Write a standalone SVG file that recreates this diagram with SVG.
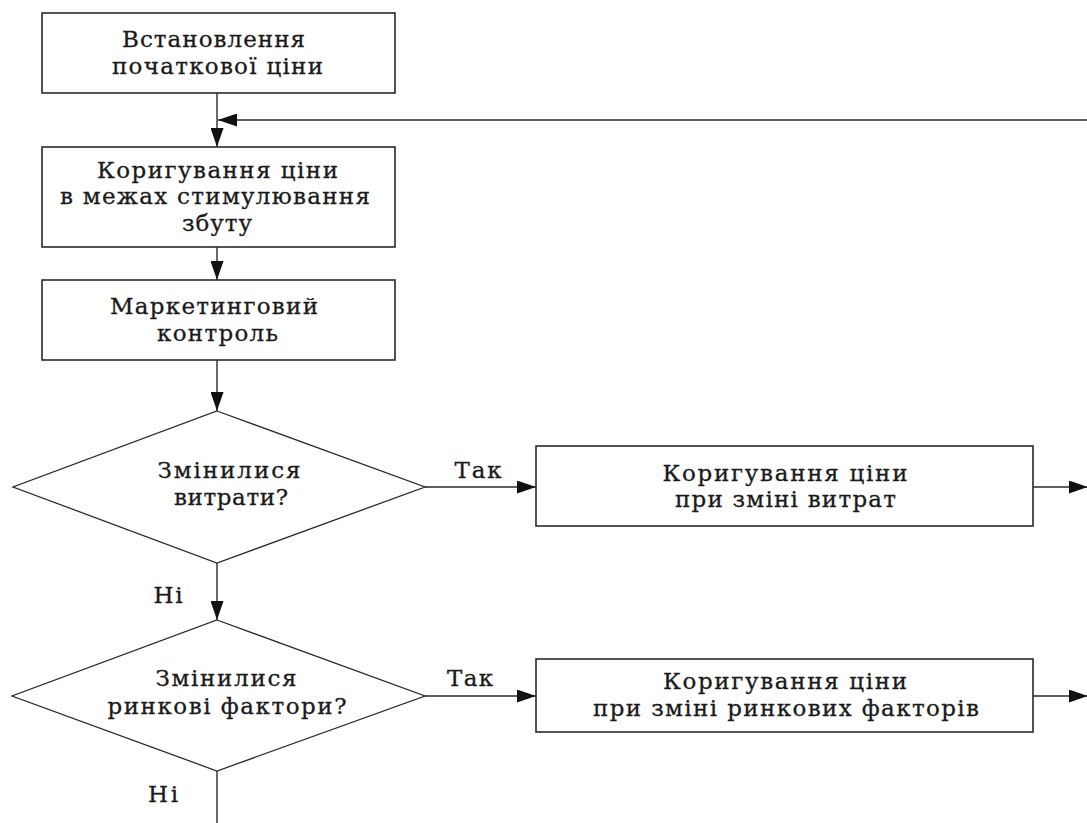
<svg xmlns="http://www.w3.org/2000/svg" width="1087" height="823" viewBox="0 0 1087 823">
<style>
.box{fill:#fff;stroke:#2a2a2a;stroke-width:1.6}
.dia{fill:#fff;stroke:#2a2a2a;stroke-width:1.3}
.t{font-family:"DejaVu Serif","Liberation Serif",serif;font-size:23px;fill:#1a1a1a;stroke:#1a1a1a;stroke-width:0.3;text-anchor:middle}
.c{fill:none;stroke:#2a2a2a;stroke-width:1.4}
.ca{fill:none;stroke:#2a2a2a;stroke-width:1.4;marker-end:url(#ah)}
</style>
<defs>
<marker id="ah" markerUnits="userSpaceOnUse" markerWidth="19" markerHeight="13" refX="19" refY="6.5" orient="auto">
<path d="M0,0 L19,6.5 L0,13 Z" fill="#111"/>
</marker>
</defs>
<rect width="1087" height="823" fill="#fff"/>
<g id="connectors">
<path class="ca" d="M217,93 V147"/>
<path class="ca" d="M1087,120 H218"/>
<path class="ca" d="M217,247 V280"/>
<path class="ca" d="M217,360 V411"/>
<path class="ca" d="M425,487 H536"/>
<path class="ca" d="M1033,487 H1088"/>
<path class="ca" d="M217,563 V620"/>
<path class="ca" d="M425,696 H536"/>
<path class="ca" d="M1033,696 H1088"/>
<path class="c" d="M217,771 V823"/>
</g>
<g id="n1">
<rect class="box" x="42" y="13" width="353" height="80"/>
<text class="t" x="213.5" y="47" textLength="183" lengthAdjust="spacing">Встановлення</text>
<text class="t" x="217.5" y="74" textLength="211" lengthAdjust="spacing">початкової ціни</text>
</g>
<g id="n2">
<rect class="box" x="42" y="147" width="353" height="100"/>
<text class="t" x="217.5" y="178" textLength="241" lengthAdjust="spacing">Коригування ціни</text>
<text class="t" x="215" y="204" textLength="310" lengthAdjust="spacing">в межах стимулювання</text>
<text class="t" x="217" y="231" textLength="70" lengthAdjust="spacing">збуту</text>
</g>
<g id="n3">
<rect class="box" x="42" y="280" width="353" height="80"/>
<text class="t" x="214" y="314" textLength="208" lengthAdjust="spacing">Маркетинговий</text>
<text class="t" x="217.5" y="341" textLength="121" lengthAdjust="spacing">контроль</text>
</g>
<g id="d1">
<polygon class="dia" points="217,411 425,487 217,563 13,487"/>
<text class="t" x="229" y="478" textLength="143" lengthAdjust="spacing">Змінилися</text>
<text class="t" x="231" y="505" textLength="114" lengthAdjust="spacing">витрати?</text>
</g>
<g id="l1">
<text class="t" x="478" y="478" textLength="47" lengthAdjust="spacing">Так</text>
<text class="t" x="168" y="603" textLength="29" lengthAdjust="spacing">Ні</text>
</g>
<g id="nA">
<rect class="box" x="536" y="446" width="497" height="80"/>
<text class="t" x="785" y="481" textLength="245" lengthAdjust="spacing">Коригування ціни</text>
<text class="t" x="785.5" y="507" textLength="221" lengthAdjust="spacing">при зміні витрат</text>
</g>
<g id="d2">
<polygon class="dia" points="217,620 425,696 217,771 12,696"/>
<text class="t" x="226" y="686" textLength="141" lengthAdjust="spacing">Змінилися</text>
<text class="t" x="227" y="714" textLength="239" lengthAdjust="spacing">ринкові фактори?</text>
</g>
<g id="l2">
<text class="t" x="470" y="686" textLength="46" lengthAdjust="spacing">Так</text>
<text class="t" x="163" y="802" textLength="30" lengthAdjust="spacing">Ні</text>
</g>
<g id="nB">
<rect class="box" x="536" y="659" width="497" height="73"/>
<text class="t" x="785" y="689" textLength="244" lengthAdjust="spacing">Коригування ціни</text>
<text class="t" x="786" y="716" textLength="386" lengthAdjust="spacing">при зміні ринкових факторів</text>
</g>
</svg>
